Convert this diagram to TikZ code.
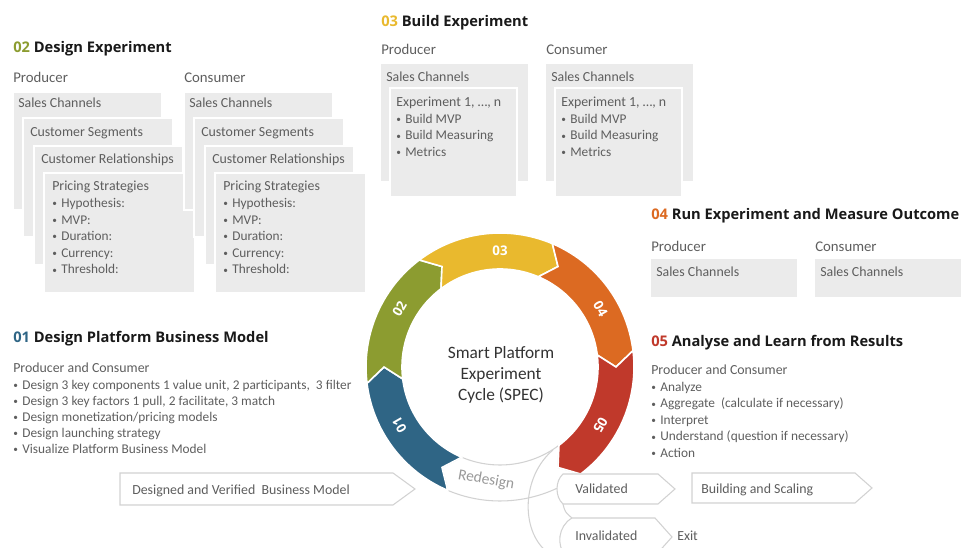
\documentclass[tikz,border=0pt]{standalone}
\usepackage{fontspec}
\usepackage{graphicx}
\setmainfont{Carlito}
\newfontfamily\headfont{Open Sans}
\definecolor{c01}{HTML}{2F6585}
\definecolor{c02}{HTML}{8C9C30}
\definecolor{c03}{HTML}{E9B92E}
\definecolor{c04}{HTML}{DC6A22}
\definecolor{c05}{HTML}{C0392B}
\definecolor{boxgray}{HTML}{EBEBEB}
\definecolor{txtgray}{HTML}{5E5E5E}
\definecolor{linegray}{HTML}{D2D2D2}
\tikzset{
    graybox/.style={fill=boxgray, draw=white, line width=1pt},
    head/.style={anchor=base west, inner sep=0pt, text=black!90,
        font=\headfont\bfseries\fontsize{11}{13}\selectfont},
    role/.style={anchor=base west, inner sep=0pt, text=txtgray,
        font=\fontsize{11.1}{13}\selectfont},
    txt/.style={anchor=base west, inner sep=0pt, text=txtgray,
        font=\fontsize{10.4}{12.5}\selectfont},
    lst/.style={txt, font=\fontsize{10}{12}\selectfont},
    seglabel/.style={text=white, inner sep=0pt,
        font=\headfont\bfseries\fontsize{10}{12}\selectfont},
    flowarrow/.style={fill=white, draw=linegray, line width=0.8pt},
}
\newcommand{\itm}[1]{\makebox[6.8pt][l]{\raisebox{0.6pt}{\scalebox{0.7}{\textbullet}}}#1}

\begin{document}
\begin{tikzpicture}[x=0.75pt, y=0.75pt]
\clip (0,0) rectangle (961,548);

% 02 design experiment
\node[head] (h02) at (13,495) {\textcolor{c02}{02} Design Experiment};
\foreach \dx/\s/\r in {0/p/Producer, 171/c/Consumer} {
    \node[role] (\s-role2) at (13+\dx,465) {\r};
    \filldraw[graybox] (13+\dx,456) rectangle (162+\dx,338);
    \filldraw[graybox] (23+\dx,430) rectangle (173+\dx,311);
    \filldraw[graybox] (34+\dx,402) rectangle (183+\dx,283);
    \filldraw[graybox] (44+\dx,375) rectangle (195+\dx,255);
    \node[txt] (\s-sales2) at (18+\dx,440) {Sales Channels};
    \node[txt] (\s-segm2) at (30+\dx,411) {Customer Segments};
    \node[txt] (\s-rel2) at (41+\dx,384) {Customer Relationships};
    \node[txt] (\s-price2) at (52+\dx,357) {Pricing Strategies};
    \foreach \t [count=\i] in {Hypothesis:, MVP:, Duration:, Currency:, Threshold:}
        \node[lst] (\s-price\i) at (52+\dx,357-16.6*\i) {\itm{\t}};
}

% 03 build experiment
\node[head] (h03) at (381,521) {\textcolor{c03}{03} Build Experiment};
\foreach \dx/\s/\r in {0/p/Producer, 165/c/Consumer} {
    \node[role] (\s-role3) at (381+\dx,493) {\r};
    \filldraw[graybox] (380+\dx,485) rectangle (529+\dx,366);
    \filldraw[graybox] (390+\dx,460) rectangle (517+\dx,351);
    \node[txt] (\s-sales3) at (386+\dx,466) {Sales Channels};
    \node[txt] (\s-exp3) at (396+\dx,441) {Experiment 1, …, n};
    \foreach \t [count=\i] in {Build MVP, Build Measuring, Metrics}
        \node[lst] (\s-build\i) at (396+\dx,441-16.5*\i) {\itm{\t}};
}

% 04 run experiment
\node[head] (h04) at (651,328) {\textcolor{c04}{04} Run Experiment and Measure Outcome};
\foreach \dx/\s/\r in {0/p/Producer, 164/c/Consumer} {
    \node[role] (\s-role4) at (651+\dx,296) {\r};
    \filldraw[graybox] (650+\dx,290) rectangle (798+\dx,250);
    \node[txt] (\s-sales4) at (656+\dx,271) {Sales Channels};
}

% 05 analyse
\node[head] (h05) at (651,201) {\textcolor{c05}{05} Analyse and Learn from Results};
\node[txt] (pc05) at (651,173) {Producer and Consumer};
\foreach \t [count=\i] in {Analyze, Aggregate\ \ (calculate if necessary), Interpret,
        Understand\ (question if necessary), Action}
    \node[lst] (res\i) at (651,173-16.5*\i) {\itm{\t}};

% 01 business model
\node[head] (h01) at (13,205) {\textcolor{c01}{01} Design Platform Business Model};
\node[txt] (pc01) at (13,175) {Producer and Consumer};
\foreach \t [count=\i] in {{Design 3 key components 1 value unit, 2 participants,\ \ 3 filter},
        {Design 3 key factors 1 pull, 2 facilitate, 3 match},
        Design monetization/pricing\ models, Design launching strategy,
        Visualize Platform\ Business Model}
    \node[lst] (bm\i) at (13,175-16.1*\i) {\itm{\t}};

% cycle
\begin{scope}[shift={(500,181)}]
    \filldraw[flowarrow] (-53:134) arc[start angle=-53, end angle=-113, radius=134]
        -- (-120:116) -- (-113:98) arc[start angle=-113, end angle=-53, radius=98]
        -- (-60:116) -- cycle;
    \node[rotate=-10, text=black!40, font=\fontsize{11.6}{13}\selectfont] (redesign) at (-97:114) {Redesign};
    \foreach \b/\c/\t in {247/c01/01, 187/c02/02, 127/c03/03, 67/c04/04, 7/c05/05} {
        \filldraw[fill=\c, draw=white, line width=1.2pt] (\b:134)
            arc[start angle=\b, end angle={\b-60}, radius=134] -- ({\b-67}:116)
            -- ({\b-60}:98) arc[start angle={\b-60}, end angle=\b, radius=98]
            -- ({\b-7}:116) -- cycle;
        \node[seglabel, rotate={\b-127}] (seg\t) at ({\b-37}:116) {\t};
    }
\end{scope}
\node[align=center, text=black!80, font=\fontsize{13}{15.5}\selectfont] (spec) at (501,173)
    {Smart Platform\\Experiment\\Cycle (SPEC)};

% outcome arrows
\coordinate (end05) at (553,98);
\coordinate (bottom) at (547,-4);
\draw[linegray, line width=0.8pt] (end05) .. controls (522,72) and (520,18) .. (bottom);
\filldraw[flowarrow] (120,75) -- (393,75) -- (415,59) -- (393,43) -- (120,43) -- cycle;
\node[txt] (dvbm) at (132,53) {Designed and Verified\ \ Business Model};
\filldraw[flowarrow] (563,74) -- (658,74) -- (675,59) -- (658,44) -- (563,44)
    .. controls (555,51) and (555,67) .. cycle;
\node[txt] (valid) at (575,54) {Validated};
\draw[linegray, line width=0.8pt] (563,44) .. controls (565,36) .. (572,30);
\filldraw[flowarrow] (572,30) -- (655,30) -- (672,11) -- (655,-8) -- (566,-8)
    .. controls (556,2) and (558,22) .. cycle;
\node[txt] (invalid) at (575,7) {Invalidated};
\node[txt] (exit) at (677,7) {Exit};
\filldraw[flowarrow] (692,75) -- (855,75) -- (872,60) -- (855,45) -- (692,45) -- cycle;
\node[txt] (build) at (701,54) {Building and Scaling};
\end{tikzpicture}
\end{document}
